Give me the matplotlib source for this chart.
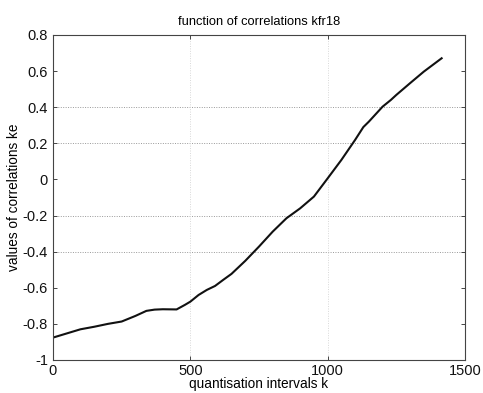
import matplotlib
matplotlib.use("Agg")
import matplotlib.pyplot as plt

# values
k = [0, 50, 100, 150, 200, 250, 300, 340, 370, 400, 450, 480, 500, 530, 560,
     590, 620, 650, 700, 750, 800, 850, 900, 950, 1000, 1050, 1100, 1130,
     1150, 1200, 1230, 1250, 1300, 1350, 1415]
ke = [-0.876, -0.853, -0.83, -0.816, -0.80, -0.787, -0.756, -0.728, -0.721,
      -0.719, -0.72, -0.695, -0.677, -0.64, -0.612, -0.59, -0.556, -0.523,
      -0.451, -0.372, -0.289, -0.215, -0.16, -0.095, 0.006, 0.108, 0.219,
      0.29, 0.32, 0.403, 0.44, 0.468, 0.533, 0.597, 0.671]

xticks = [0, 500, 1000, 1500]
yticks = [-1, -0.8, -0.6, -0.4, -0.2, 0, 0.2, 0.4, 0.6, 0.8]
ytick_labels = ["-1", "-0.8", "-0.6", "-0.4", "-0.2", "0", "0.2", "0.4", "0.6", "0.8"]
hgrid = [-0.4, -0.2, 0.2, 0.4]
vgrid = [500, 1000]

plt.rcParams['font.family'] = ['Liberation Sans', 'DejaVu Sans']

fig = plt.figure(figsize=(4.83, 3.93), dpi=100)
ax = fig.add_axes([0.1097, 0.084, 0.853, 0.827])

for g in hgrid:
    ax.axhline(g, color='#999999', linestyle=(0, (1, 1.5)), linewidth=0.7, zorder=0)
for g in vgrid:
    ax.axvline(g, color='#d8d8d8', linestyle=(0, (1, 1.5)), linewidth=0.7, zorder=0)

ax.plot(k, ke, color='#111111', linewidth=1.5)

ax.set_xlim(0, 1500)
ax.set_ylim(-1, 0.8)
ax.set_xticks(xticks)
ax.set_yticks(yticks)
ax.set_yticklabels(ytick_labels)
ax.tick_params(direction='in', length=3, labelsize=10.5, top=True, right=True,
               width=0.7, color='#444444', labelcolor='#111111')
ax.tick_params(axis='x', pad=3)
for s in ax.spines.values():
    s.set_linewidth(0.8)
    s.set_color('#444444')

ax.set_title("function of correlations kfr18", fontsize=9.3, pad=7)
ax.set_xlabel("quantisation intervals k", fontsize=9.8, labelpad=-1)
ax.set_ylabel("values of correlations ke", fontsize=9.8, labelpad=1)

fig.savefig("out.png", dpi=100)
